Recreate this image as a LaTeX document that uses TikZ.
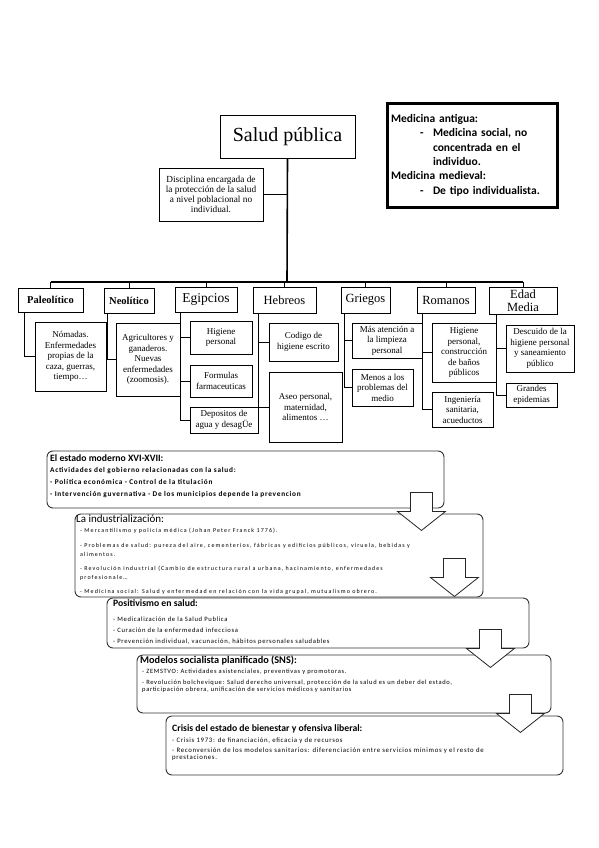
\documentclass[tikz,border=0pt]{standalone}
\usepackage{fontspec}
\setmainfont{Liberation Serif}
\newfontfamily\calibri{Carlito}
\newfontfamily\notefont[LetterSpace=10]{Carlito}
\newfontfamily\widenotefont[LetterSpace=18]{Carlito}
\usetikzlibrary{positioning}

\begin{document}
\begin{tikzpicture}[x=1pt, y=-1pt,
    era/.style={draw, line width=0.8pt, align=center, inner sep=1pt, font=\fontsize{12.5}{13}\selectfont},
    leaf/.style={draw, line width=1pt, align=center, inner sep=1pt, font=\fontsize{9}{10.5}\selectfont},
    link/.style={line width=0.6pt},
    trunk/.style={line width=1.6pt},
    stage/.style={draw=black!80, line width=0.9pt, rounded corners=6pt, inner sep=0pt},
    stagehead/.style={anchor=north west, inner sep=0pt, font=\calibri\bfseries\fontsize{9.7}{11}\selectfont},
    stagetext/.style={anchor=north west, inner sep=0pt, align=left},
    downblk/.pic={\draw[fill=white, line width=0.8pt, draw=black!85] (-11,0) -- (11,0) -- (11,19) -- (24,19) -- (0,38) -- (-24,19) -- (-11,19) -- cycle;}
  ]
  \useasboundingbox (0,0) rectangle (599,848);

  % cabecera
  \node[draw, line width=0.8pt, minimum width=135, minimum height=43, font=\fontsize{20}{22}\selectfont] (salud) at (287.5,136.5) {Salud pública};
  \node[draw, line width=0.8pt, minimum width=104, minimum height=53, align=center, inner sep=1pt, font=\fontsize{9.3}{10}\selectfont] (defin) at (211,194.5) {Disciplina encargada de\\la protección de la salud\\a nivel poblacional no\\individual.};
  \node[draw, line width=3pt, minimum width=170, minimum height=103, text width=162, align=left, inner sep=0pt, font=\calibri\bfseries\fontsize{11.5}{14.3}\selectfont] (medic) at (472,155.5) {%
    \begin{tabular}{@{}p{29pt}@{}p{13pt}@{}l@{}}
      \multicolumn{3}{@{}l@{}}{Medicina antigua:}\\
      & - & Medicina social, no\\
      & & concentrada en el\\
      & & individuo.\\
      \multicolumn{3}{@{}l@{}}{Medicina medieval:}\\
      & - & De tipo individualista.
    \end{tabular}};
  \draw[link] (defin.east) -- (defin.east -| salud.south);

  % epocas
  \node[era, font=\bfseries\fontsize{10.5}{12}\selectfont, minimum width=65, minimum height=24] (paleo) at (50.5,300) {Paleolítico};
  \node[era, font=\bfseries\fontsize{10.5}{12}\selectfont, minimum width=50, minimum height=25] (neo) at (129,300.5) {Neolítico};
  \node[era, font=\fontsize{13.5}{14}\selectfont, minimum width=62, minimum height=25] (egip) at (206,299.5) {Egipcios};
  \node[era, minimum width=63, minimum height=26] (hebr) at (284.5,300) {Hebreos};
  \node[era, minimum width=49, minimum height=26] (grie) at (365.5,300) {Griegos};
  \node[era, minimum width=58, minimum height=26] (roma) at (446,300) {Romanos};
  \node[era, minimum width=68, minimum height=27, font=\fontsize{12.5}{13}\selectfont] (edad) at (523,300.5) {Edad\\Media};

  \coordinate (hub) at (287,282);
  \draw[trunk] (salud.south) -- (hub);
  \draw[trunk] (paleo.north |- hub) -- (edad.north |- hub);
  \foreach \e in {paleo,neo,egip,hebr,grie,roma,edad}
    \draw[link] (\e.north) -- (\e.north |- hub);

  % hojas
  \node[leaf, minimum width=71, minimum height=69] (paleo1) at (70.5,356.5) {Nómadas.\\Enfermedades\\propias de la\\caza, guerras,\\tiempo…};
  \node[leaf, minimum width=64, minimum height=73] (neo1) at (148,359.5) {Agricultores y\\ganaderos.\\Nuevas\\enfermedades\\(zoomosis).};
  \node[leaf, minimum width=62, minimum height=33] (egip1) at (221,337.5) {Higiene\\personal};
  \node[leaf, minimum width=62, minimum height=32] (egip2) at (221,381) {Formulas\\farmaceuticas};
  \node[leaf, minimum width=68, minimum height=26] (egip3) at (224,420) {Depositos de\\agua y desagÜe};
  \node[leaf, minimum width=69, minimum height=38] (hebr1) at (303.5,342) {Codigo de\\higiene escrito};
  \node[leaf, minimum width=73, minimum height=70] (hebr2) at (305.5,407) {Aseo personal,\\maternidad,\\alimentos …};
  \node[leaf, minimum width=70, minimum height=35] (grie1) at (387,340.5) {Más atención a\\la limpieza\\personal};
  \node[leaf, minimum width=61, minimum height=37] (grie2) at (382.5,387.5) {Menos a los\\problemas del\\medio};
  \node[leaf, minimum width=64, minimum height=59] (roma1) at (464,352.5) {Higiene\\personal,\\construcción\\de baños\\públicos};
  \node[leaf, minimum width=61, minimum height=35] (roma2) at (462.5,409.5) {Ingeniería\\sanitaria,\\acueductos};
  \node[leaf, minimum width=68, minimum height=47] (edad1) at (540,348.5) {Descuido de la\\higiene personal\\y saneamiento\\público};
  \node[leaf, minimum width=51, minimum height=24] (edad2) at (531.5,395) {Grandes\\epidemias};

  \draw[link] ([xshift=7]paleo.south west) |- (paleo1.west);
  \draw[link] ([xshift=4]neo.south west) |- (neo1.west);
  \foreach \c in {egip1,egip2,egip3}
    \draw[link] ([xshift=6]egip.south west) |- (\c.west);
  \foreach \c in {hebr1,hebr2}
    \draw[link] ([xshift=6]hebr.south west) |- (\c.west);
  \foreach \c in {grie1,grie2}
    \draw[link] ([xshift=4]grie.south west) |- (\c.west);
  \foreach \c in {roma1,roma2}
    \draw[link] ([xshift=6]roma.south west) |- (\c.west);
  \foreach \c in {edad1,edad2}
    \draw[link] ([xshift=8]edad.south west) |- (\c.west);

  % etapas
  \node[stage, minimum width=397, minimum height=57] (modern) at (245.5,479.5) {};
  \node[stage, minimum width=408, minimum height=83] (indus) at (279,555.5) {};
  \node[stage, minimum width=422, minimum height=50] (posit) at (318,623) {};
  \node[stage, minimum width=414, minimum height=58] (social) at (344,684) {};
  \node[stage, minimum width=397, minimum height=59] (crisis) at (364.5,745.5) {};

  \node[stagehead] (modernh) at (50,454) {El estado moderno XVI-XVII:};
  \node[stagetext, font=\notefont\bfseries\fontsize{7.3}{11.7}\selectfont] (modernt) at (50,467.5) {Actividades del gobierno relacionadas con la salud:\\- Política económica - Control de la titulación\\- Intervención guvernativa - De los municipios depende la prevencion};

  \node[stagehead, font=\calibri\fontsize{11}{12}\selectfont] (indush) at (76,515) {La industrialización:};
  \node[stagetext, font=\widenotefont\fontsize{6}{8.5}\selectfont] (indust) at (80,528) {- Mercantilismo y policía médica (Johan Peter Franck 1776).\\[6.5pt]- Problemas de salud: pureza del aire, cementerios, fábricas y edificios públicos, viruela, bebidas y\\alimentos.\\[6pt]- Revolución industrial (Cambio de estructura rural a urbana, hacinamiento, enfermedades\\profesionale…\\[5.5pt]- Medicina social: Salud y enfermedad en relación con la vida grupal, mutualismo obrero.};

  \node[stagehead] (posith) at (113,599.5) {Positivismo en salud:};
  \node[stagetext, font=\notefont\fontsize{6.6}{11}\selectfont] (positt) at (113,616.5) {- Medicalización de la Salud Publica\\- Curación de la enfermedad infecciosa\\- Prevención individual, vacunación, hábitos personales saludables};

  \node[stagehead, font=\calibri\bfseries\fontsize{10.3}{11}\selectfont] (socialh) at (140,656) {Modelos socialista planificado (SNS):};
  \node[stagetext, font=\notefont\fontsize{6.5}{7.3}\selectfont] (socialt) at (142,668.5) {- ZEMSTVO: Actividades asistenciales, preventivas y promotoras.\\[3.7pt]- Revolución bolchevique: Salud derecho universal, protección de la salud es un deber del estado,\\participación obrera, unificación de servicios médicos y sanitarios};

  \node[stagehead] (crisish) at (172,724.5) {Crisis del estado de bienestar y ofensiva liberal:};
  \node[stagetext, font=\notefont\fontsize{6.8}{7}\selectfont] (crisist) at (172,737.5) {- Crisis 1973: de financiación, eficacia y de recursos\\[3pt]- Reconversión de los modelos sanitarios: diferenciación entre servicios mínimos y el resto de\\prestaciones.};

  \pic at ([shift={(-23,-16)}]modern.south east) {downblk};
  \pic at ([shift={(-29,-39)}]indus.south east) {downblk};
  \pic at ([shift={(-39,-19)}]posit.south east) {downblk};
  \pic at ([shift={(-31,-19)}]social.south east) {downblk};
\end{tikzpicture}
\end{document}
